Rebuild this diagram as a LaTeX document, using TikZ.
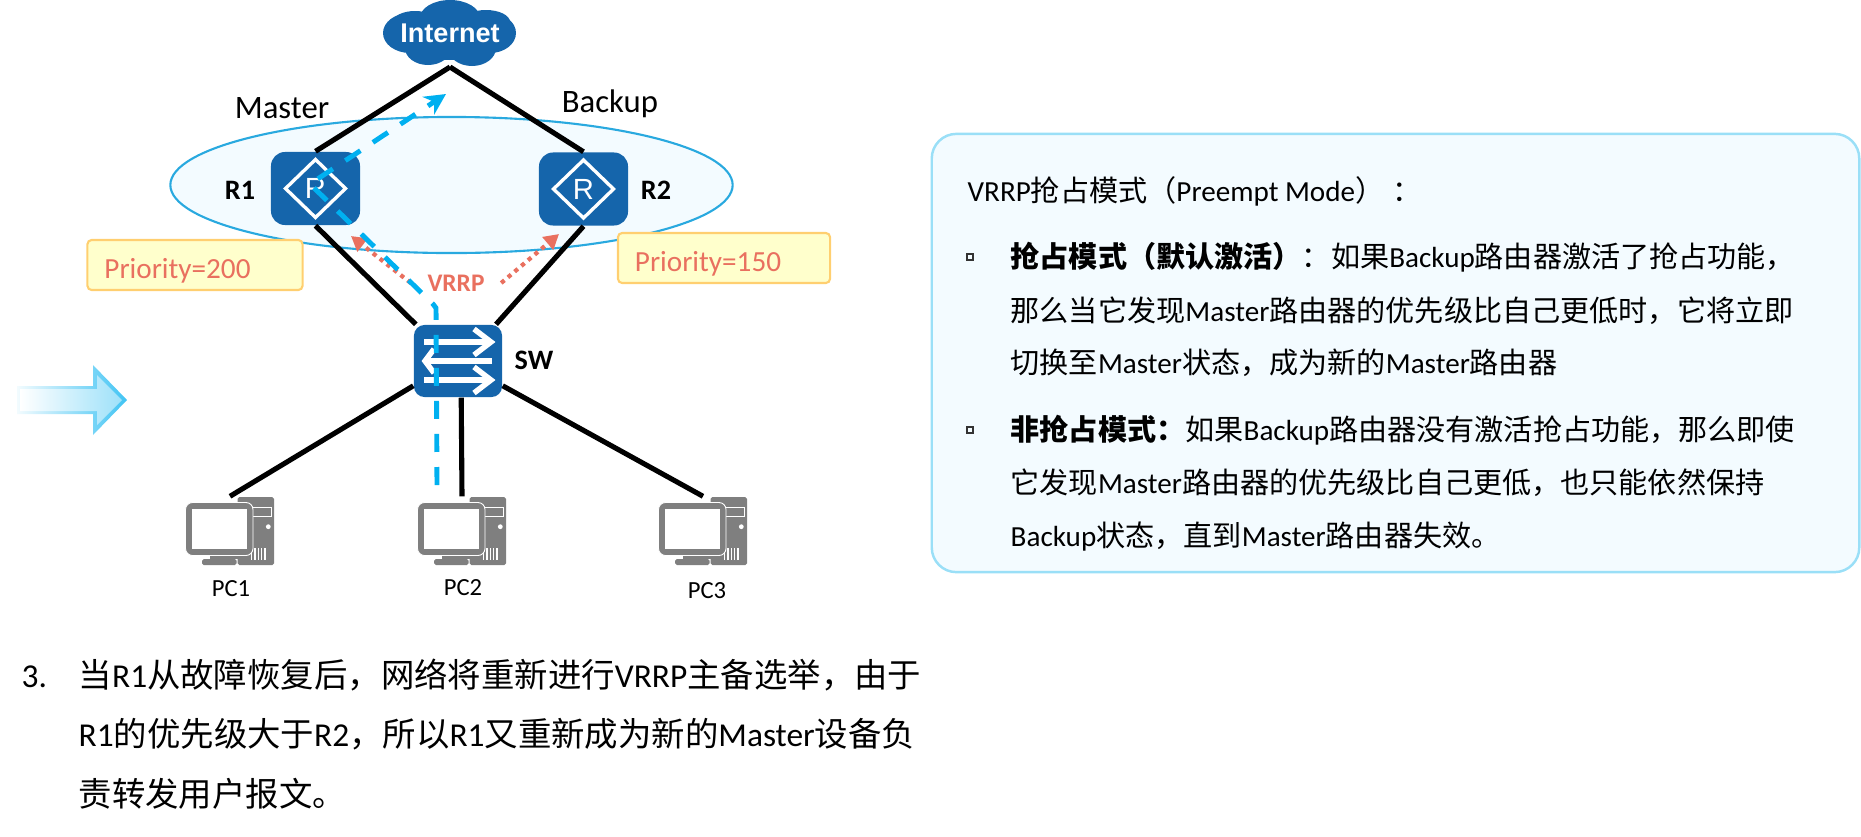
\documentclass[tikz,border=0pt]{standalone}
\usepackage{fontspec}
\setmainfont{Carlito}
\newfontfamily\cjkfont{Noto Sans CJK SC}
\newfontfamily\iconfont{Liberation Sans}
\newcommand{\zh}[1]{{\cjkfont #1}}
\newcommand{\pxfont}[1]{\fontsize{#1}{#1}\selectfont}
\usetikzlibrary{arrows.meta,shapes.geometric}
\definecolor{devblue}{HTML}{1565AB}
\definecolor{flowblue}{HTML}{00B0F0}
\definecolor{vrrpred}{HTML}{E9705F}
\definecolor{pcgrey}{HTML}{7F7F7F}
\definecolor{panelfill}{HTML}{F3FBFF}
\definecolor{panelline}{HTML}{9ADFF7}
\definecolor{groupline}{HTML}{29A9DF}
\definecolor{prioline}{HTML}{FFCF70}
\definecolor{priofill}{HTML}{FFFFCC}
\tikzset{
    link/.style={line width=1.45pt},
    router/.style={fill=devblue, rounded corners=4pt, inner sep=0pt, minimum width=.89cm, minimum height=.73cm,
        text=white, font=\iconfont\pxfont{8.3},
        path picture={\draw[white, line width=.95pt, sharp corners] (path picture bounding box.center) ++(30,0) -- ++(-30,-29) -- ++(-30,29) -- ++(30,29) -- cycle;}},
    switchbox/.style={fill=devblue, rounded corners=3pt, inner sep=0pt, minimum width=.88cm, minimum height=.72cm},
    prio/.style={draw=prioline, fill=priofill, line width=.6pt, rounded corners=1.2pt, inner sep=0pt, inner xsep=.17cm,
        text width=#1-.34cm, align=left, minimum width=#1, minimum height=.5cm, text=vrrpred, font=\pxfont{8.3}},
    devlabel/.style={font=\pxfont{8}\bfseries, inner sep=0pt},
    pclabel/.style={font=\pxfont{7}, inner sep=0pt},
    roletext/.style={font=\pxfont{9.3}, inner sep=0pt},
    paneltext/.style={anchor=base west, font=\pxfont{8.28}, inner sep=0pt},
    stepstext/.style={anchor=base west, font=\pxfont{9.5}, inner sep=0pt},
    bulletbox/.style={draw=black!80, line width=.3pt, inner sep=0pt, minimum size=.06cm},
    flow/.style={flowblue, line width=1.4pt, dash pattern=on 5.12pt off 4.27pt},
    vrrpflow/.style={vrrpred, line width=1.2pt, dash pattern=on 1.2pt off 1.3pt},
    swarrow/.style={white, line width=1.55pt},
    pcicon/.pic={
        \fill[pcgrey, rounded corners=.5pt] (7.7,-34) rectangle (44,34);
        \draw[white, line width=.4pt] (22.7,-23.3) rectangle (41.7,-14.3);
        \fill[white] (38.3,-4.3) circle (2.4);
        \foreach \v in {21.7,25,28.3,31.7,35}{
            \draw[white, line width=.35pt] (\v,17) -- (\v,29);
        }
        \fill[pcgrey] (-20,24) rectangle (8,28);
        \fill[pcgrey, rounded corners=.5pt] (-28,28) rectangle (6.7,34);
        \draw[white, fill=pcgrey, line width=.25pt, rounded corners=2pt] (-44.5,-28.5) rectangle (23,24.5);
        \fill[white] (-38,-22) rectangle (16.5,18);
    }
}

\begin{document}
\begin{tikzpicture}[x=0.01cm,y=-0.01cm]
    \useasboundingbox (0,0) rectangle (1861,836);

    % arrow at the left
    \shade[left color=flowblue!5, right color=flowblue!75] (17,386) -- (93,386) -- (93,365) -- (127,400) -- (93,435) -- (93,414) -- (17,414) -- cycle;
    \shade[left color=white, middle color=flowblue!8, right color=flowblue!38] (20,389) -- (97,389) -- (97,375) -- (122,400) -- (97,425) -- (97,411) -- (20,411) -- cycle;

    % cloud
    \foreach \x/\y/\a/\b in {450/18/30/18,410/33/27/20,490/33/26/20,415/22/22/11,486/22/24/12,428/48/23/17,472/48/24/18,450/35/45/25}{
        \fill[devblue] (\x,\y) ellipse ({\a*0.01cm} and {\b*0.01cm});
    }
    \node[text=white, font=\iconfont\pxfont{7.7}\bfseries, inner sep=0pt] (inet) at (450,33) {Internet};
    \coordinate (apex) at (450,67);

    \node[ellipse, draw=groupline, fill=panelfill, line width=.6pt, minimum width=5.62cm, minimum height=1.36cm] (group) at (451.5,185) {};
    \node[prio=2.15cm] (prioA) at (195,265) {\raisebox{-3.8pt}[0pt][0pt]{Priority=200}};
    \node[prio=2.12cm] (prioB) at (724,258) {\raisebox{-3.8pt}[0pt][0pt]{Priority=150}};

    \node[router] (R1) at (315.5,188.5) {R};
    \node[router] (R2) at (583.5,189) {R};
    \node[switchbox] (sw) at (458,361) {};
    \foreach \y in {-19,19}{
        \draw[swarrow] (sw.center) ++(-34,\y) -- ++(66,0);
        \draw[swarrow] (sw.center) ++(16,\y-13) -- ++(17,13) -- ++(-17,13);
    }
    \draw[swarrow] (sw.center) ++(34,0) -- ++(-66,0);
    \draw[swarrow] (sw.center) ++(-24,-12) -- ++(-9,12) -- ++(9,12);

    \foreach \n/\x in {pc1/230,pc2/462,pc3/703}{
        \node[inner sep=0pt, minimum width=.88cm, minimum height=.68cm] (\n) at (\x,531) {};
        \pic at (\n) {pcicon};
    }

    % links
    \draw[link] (apex) -- (R1.north);
    \draw[link] (apex) -- (R2.north);
    \draw[link] (R1.south) -- (sw.139);
    \draw[link] (R2.south) -- (sw.44);
    \draw[link] (sw.209) -- (pc1.north);
    \draw[link] (sw.-85) -- (pc2.north);
    \draw[link] (sw.-29) -- (pc3.north);

    % labels
    \node[roletext] (master) at (282,108) {Master};
    \node[roletext] (backup) at (610,104) {Backup};
    \node[devlabel] (lab1) at (240,190) {R1};
    \node[devlabel] (lab2) at (656,190) {R2};
    \node[devlabel] (labsw) at (534,360) {SW};
    \node[pclabel] (labpc1) at (231,589) {PC1};
    \node[pclabel] (labpc2) at (463,588) {PC2};
    \node[pclabel] (labpc3) at (707,591) {PC3};

    % VRRP messages
    \node[text=vrrpred, font=\pxfont{7.2}\bfseries, inner sep=0pt, inner xsep=.16cm] (vrrp) at (456,283) {VRRP};
    \coordinate (tipA) at (351,236);
    \coordinate (tipB) at (559,234);
    \draw[vrrpflow, -{Triangle[length=4.2pt,width=4.6pt]}] (vrrp.west) -- (tipA);
    \draw[vrrpflow, -{Triangle[length=4.2pt,width=4.6pt]}] (vrrp.east) -- (tipB);

    % user traffic
    \coordinate (flowstart) at (437,485);
    \coordinate (flowbend) at (436,308);
    \coordinate (flowtop) at (433,304);
    \coordinate (flowturn) at (310,184);
    \coordinate (flowtip) at (446,94);
    \draw[flow, -{Stealth[length=6pt,width=6pt]}] (flowstart) -- (flowbend) -- (flowtop) -- (flowturn) -- (flowtip);

    % panel
    \node[draw=panelline, fill=panelfill, line width=.7pt, rounded corners=7pt, minimum width=9.27cm, minimum height=4.38cm] (panel) at (1395.5,353) {};
    \node[paneltext] (head) at (967,201) {VRRP\zh{抢占模式（}Preempt Mode\zh{）}\hspace{.3em}\zh{：}};
    \node[bulletbox] (bulA) at (970,257) {};
    \node[bulletbox] (bulB) at (970,430) {};
    \foreach \y/\t in {
        267/{{\bfseries\zh{抢占模式（默认激活）}}\zh{：如果}Backup\zh{路由器激活了抢占功能，}},
        321/{\zh{那么当它发现}Master\zh{路由器的优先级比自己更低时，它将立即}},
        373/{\zh{切换至}Master\zh{状态，成为新的}Master\zh{路由器}},
        440/{{\bfseries\zh{非抢占模式：}}\zh{如果}Backup\zh{路由器没有激活抢占功能，那么即使}},
        493/{\zh{它发现}Master\zh{路由器的优先级比自己更低，也只能依然保持}},
        546/{Backup\zh{状态，直到}Master\zh{路由器失效。}}}{
        \node[paneltext] at (1010,\y) {\t};
    }

    % bottom text
    \node[stepstext] (stepno) at (21,687) {3.};
    \foreach \y/\t in {
        687/{\zh{当}R1\zh{从故障恢复后，网络将重新进行}VRRP\zh{主备选举，由于}},
        746/{R1\zh{的优先级大于}R2\zh{，所以}R1\zh{又重新成为新的}Master\zh{设备负}},
        806/{\zh{责转发用户报文。}}}{
        \node[stepstext] at (78,\y) {\t};
    }
\end{tikzpicture}
\end{document}
